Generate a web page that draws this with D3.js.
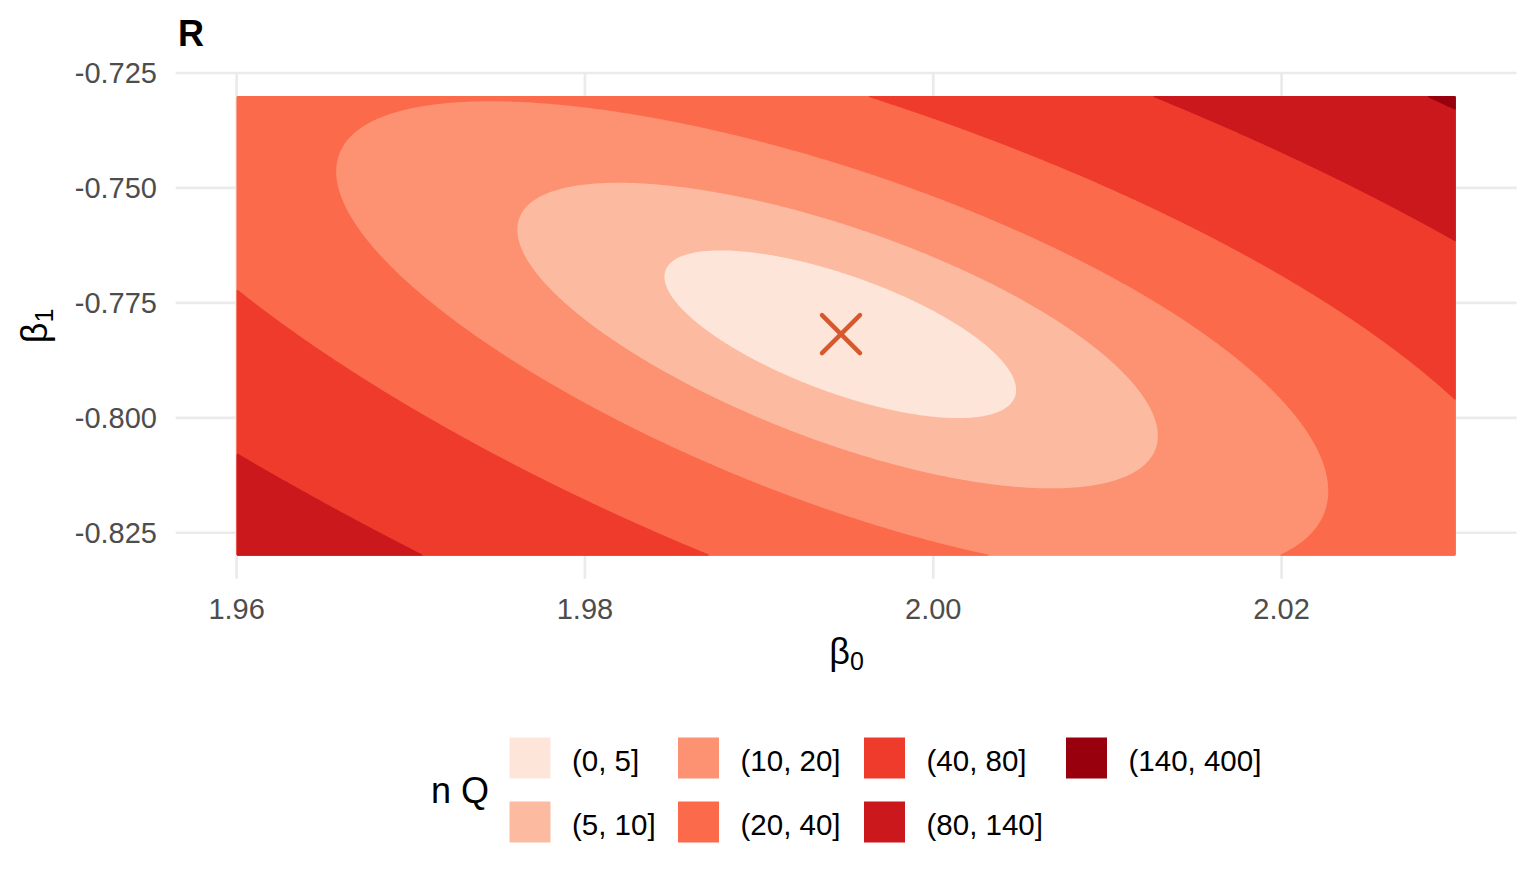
<!DOCTYPE html>
<html><head><meta charset="utf-8">
<script src="https://cdn.jsdelivr.net/npm/d3@7"></script>
<style>body{margin:0;background:#fff} svg{display:block} text{font-family:"Liberation Sans",Arial,Helvetica,sans-serif}</style>
</head><body><svg id="chart" width="1536" height="883"></svg>
<script>
// ---- data ----
const xTicks = [1.96, 1.98, 2.00, 2.02];
const xTickLabels = ["1.96", "1.98", "2.00", "2.02"];
const yTicks = [-0.725, -0.75, -0.775, -0.8, -0.825];
const yTickLabels = ["-0.725", "-0.750", "-0.775", "-0.800", "-0.825"];
const b0Range = [1.96, 2.03];
const b1Range = [-0.83, -0.73];
const breaks = [0, 5, 10, 20, 40, 80, 140, 400];
const bandLabels = ["(0, 5]", "(5, 10]", "(10, 20]", "(20, 40]", "(40, 80]", "(80, 140]", "(140, 400]"];
const estimate = [1.9947, -0.7818];
// nQ surface estimated from the picture's contour boundaries:
// nQ = sum coef_k * basis_k(u, v), u = (b0 - centre0)/step, v = (b1 - centre1)/step
const surfaceCentre = [1.995, -0.78];
const surfaceStep = 0.01;
const surfaceCoef = [2.89213, 0.712753, 0.489563, 3.90595, 2.93455, 1.20653, 0.0335568, 0.0372660, 0.0517258, 0.0206628];

// ---- style ----
const colors = ["#fee5d9", "#fcbba1", "#fc9272", "#fb6a4a", "#ef3b2c", "#cb181d", "#99000d"];

const svg = d3.select("#chart");
const exp = (r) => { const d = (r[1] - r[0]) * 0.05; return [r[0] - d, r[1] + d]; };
const x = d3.scaleLinear().domain(exp(b0Range)).range([175.7, 1516.7]);
const y = d3.scaleLinear().domain(exp(b1Range)).range([578.7, 73]);

const basis = (u, v) => [1, u, v, u*u, u*v, v*v, u*u*u, u*u*v, u*v*v, v*v*v];
const nQ = (b0, b1) => {
  const ph = basis((b0 - surfaceCentre[0]) / surfaceStep, (b1 - surfaceCentre[1]) / surfaceStep);
  return d3.sum(ph, (p, k) => p * surfaceCoef[k]);
};

// grid + contours
const nx = 700, ny = 230;
const d0 = b0Range[1] - b0Range[0], d1 = b1Range[1] - b1Range[0];
const values = new Float64Array(nx * ny);
for (let j = 0; j < ny; j++) for (let i = 0; i < nx; i++)
  values[j * nx + i] = nQ(b0Range[0] + (i + 0.5) / nx * d0, b1Range[1] - (j + 0.5) / ny * d1);
const contours = d3.contours().size([nx, ny]).thresholds(breaks.slice(0, 7))(values);
const proj = d3.geoTransform({ point(gx, gy) { this.stream.point(x(b0Range[0] + gx / nx * d0), y(b1Range[1] - gy / ny * d1)); } });
const path = d3.geoPath(proj);

// grid lines
const grid = svg.append("g").attr("stroke", "#ebebeb").attr("stroke-width", 2.7);
grid.selectAll("line.v").data(xTicks).join("line").attr("x1", d => x(d)).attr("x2", d => x(d)).attr("y1", y.range()[0]).attr("y2", y.range()[1]);
grid.selectAll("line.h").data(yTicks).join("line").attr("y1", d => y(d)).attr("y2", d => y(d)).attr("x1", x.range()[0]).attr("x2", x.range()[1]);

svg.append("g").selectAll("path").data(contours).join("path")
  .attr("d", path).attr("fill", (d, i) => colors[i]).attr("stroke", "none");

// estimate marker
const mx = x(estimate[0]), my = y(estimate[1]), r = 19;
svg.append("g").attr("stroke", "#d6582c").attr("stroke-width", 4.4).attr("stroke-linecap", "round")
  .selectAll("line").data([[-1, -1, 1, 1], [-1, 1, 1, -1]]).join("line")
  .attr("x1", d => mx + d[0] * r).attr("y1", d => my + d[1] * r).attr("x2", d => mx + d[2] * r).attr("y2", d => my + d[3] * r);

// axes text
svg.append("g").selectAll("text").data(xTicks).join("text")
  .attr("x", d => x(d)).attr("y", 618.5).attr("text-anchor", "middle").attr("font-size", 29).attr("fill", "#4d4d4d")
  .text((d, i) => xTickLabels[i]);
svg.append("g").selectAll("text").data(yTicks).join("text")
  .attr("x", 157).attr("y", d => y(d) + 10.4).attr("text-anchor", "end").attr("font-size", 29).attr("fill", "#4d4d4d")
  .text((d, i) => yTickLabels[i]);

const xt = svg.append("text").attr("x", 846.5).attr("y", 664).attr("text-anchor", "middle").attr("font-size", 36).attr("fill", "#000");
xt.append("tspan").text("β");
xt.append("tspan").attr("font-size", 25).attr("dy", 6).text("0");
const yt = svg.append("text").attr("transform", "translate(47,326) rotate(-90)").attr("text-anchor", "middle").attr("font-size", 36).attr("fill", "#000");
yt.append("tspan").text("β");
yt.append("tspan").attr("font-size", 25).attr("dy", 6).text("1");

svg.append("text").attr("x", 178).attr("y", 46).attr("font-size", 36).attr("font-weight", "bold").text("R");

// legend
svg.append("text").attr("x", 431).attr("y", 803).attr("font-size", 36).text("n Q");
const colX = [509.5, 678, 864, 1066], rowY = [737.5, 801.5], ks = 41;
const leg = svg.append("g").selectAll("g").data(bandLabels).join("g")
  .attr("transform", (d, i) => `translate(${colX[Math.floor(i / 2)]},${rowY[i % 2]})`);
leg.append("rect").attr("width", ks).attr("height", ks).attr("fill", (d, i) => colors[i]);
leg.append("text").attr("x", 62.5).attr("y", ks / 2 + 12.5).attr("font-size", 29.5).text(d => d);
</script></body></html>
